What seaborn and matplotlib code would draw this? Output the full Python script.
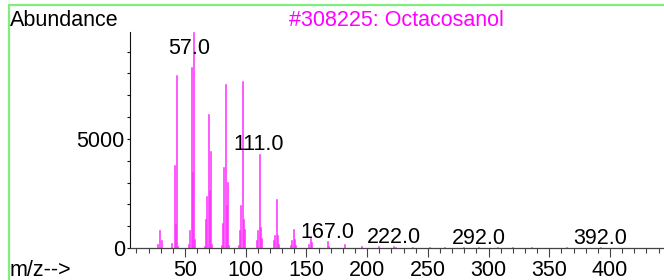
import numpy as np
import pandas as pd
import matplotlib
matplotlib.use("Agg")
import matplotlib.pyplot as plt
import seaborn as sns
from matplotlib.ticker import MultipleLocator, FixedLocator

# ---- data (m/z, abundance) ----
mz = [27, 29, 31, 39, 41, 42, 43, 44,
      53, 54, 55, 56, 57, 58,
      66, 67, 68, 69, 70, 71, 72,
      80, 81, 82, 83, 84, 85, 86,
      94, 95, 96, 97, 98, 99,
      109, 110, 111, 112, 113,
      123, 124, 125, 126, 127,
      137, 138, 139, 140, 141,
      152, 153, 154, 167, 168, 181, 195, 209, 222, 223,
      237, 251, 264, 279, 292, 307, 320, 335, 364, 392]
abundance = [200, 844, 353, 250, 3826, 1119, 7922, 110,
             200, 810, 8275, 3486, 9900, 430,
             100, 1349, 2386, 6119, 2647, 4436, 200,
             150, 1147, 3716, 7509, 1959, 3028, 150,
             150, 812, 1959, 7647, 1349, 858,
             385, 812, 4330, 963, 477,
             353, 583, 2234, 583, 200,
             150, 353, 890, 430, 120,
             200, 460, 270, 307, 110, 190, 108, 77, 77, 50,
             50, 45, 45, 40, 50, 40, 40, 35, 45, 55]
label_mz = [57, 111, 167, 222, 292, 392]
label_text = ["57.0", "111.0", "167.0", "222.0", "292.0", "392.0"]
title = "#308225: Octacosanol"
y_label = "Abundance"
x_label = "m/z-->"

df = pd.DataFrame({"mz": mz, "abundance": abundance})

sns.set_theme(style="ticks")
plt.rcParams["font.family"] = ["Liberation Sans", "DejaVu Sans"]

W, H = 664, 280
fig = plt.figure(figsize=(W / 100, H / 100), dpi=100)
fig.patch.set_facecolor("white")
ax = fig.add_axes([130 / W, 1 - 248 / H, 534 / W, (248 - 32) / H])
ax.set_facecolor("white")

sns.barplot(data=df, x="mz", y="abundance", native_scale=True, width=0.9,
            color="#FF00FF", saturation=1, errorbar=None, linewidth=0.4,
            edgecolor="#FF44FF", ax=ax)

ax.set_xlim(4.7, 444.5)
ax.set_ylim(0, 9900)
ax.set_xlabel("")
ax.set_ylabel("")

for s in ["top", "right"]:
    ax.spines[s].set_visible(False)
ax.spines["left"].set_color("#111111")
ax.spines["left"].set_linewidth(0.8)
ax.spines["bottom"].set_color("#444444")
ax.spines["bottom"].set_linewidth(0.9)

fs = 15.5
ax.xaxis.set_major_locator(MultipleLocator(50))
ax.xaxis.set_minor_locator(MultipleLocator(10))
ax.yaxis.set_major_locator(FixedLocator([0, 5000]))
ax.yaxis.set_minor_locator(MultipleLocator(1000))
ax.tick_params(axis="x", which="major", direction="out", length=6.5, width=0.8,
               color="#444444", labelsize=fs, pad=2.2, labelcolor="black")
ax.tick_params(axis="x", which="minor", direction="out", length=3.6, width=0.8,
               color="#444444")
ax.tick_params(axis="y", which="both", direction="out", length=2.2, width=0.8,
               color="#111111", labelsize=fs, pad=1.5, labelcolor="black")
ax.set_xticklabels([str(int(v)) for v in ax.get_xticks()])

cap = 8750
label_dx = [-3, 0, 0, 0, 0, 0]  # horizontal nudge of labels, points
val = dict(zip(mz, abundance))
for m, t, dx in zip(label_mz, label_text, label_dx):
    ax.annotate(t, xy=(m, min(val[m], cap)), xytext=(dx, 2.2),
                textcoords="offset points", ha="center", va="baseline",
                fontsize=fs, color="black")

fig.text(10 / W, 1 - 26 / H, y_label, fontsize=fs, va="baseline", ha="left", color="black")
fig.text(396 / W, 1 - 26 / H, title, fontsize=fs, va="baseline", ha="center", color="#FF00FF")
fig.text(10 / W, 1 - 276 / H, x_label, fontsize=fs, va="baseline", ha="left", color="black")

# green frame
green = "#7FEE7F"
fig.add_artist(plt.Line2D([9 / W, 9 / W], [0, 1 - 5 / H], transform=fig.transFigure,
                          color=green, lw=1.6))
fig.add_artist(plt.Line2D([9 / W, 1], [1 - 5 / H, 1 - 5 / H], transform=fig.transFigure,
                          color=green, lw=1.6))

fig.savefig("out.png", dpi=100)
